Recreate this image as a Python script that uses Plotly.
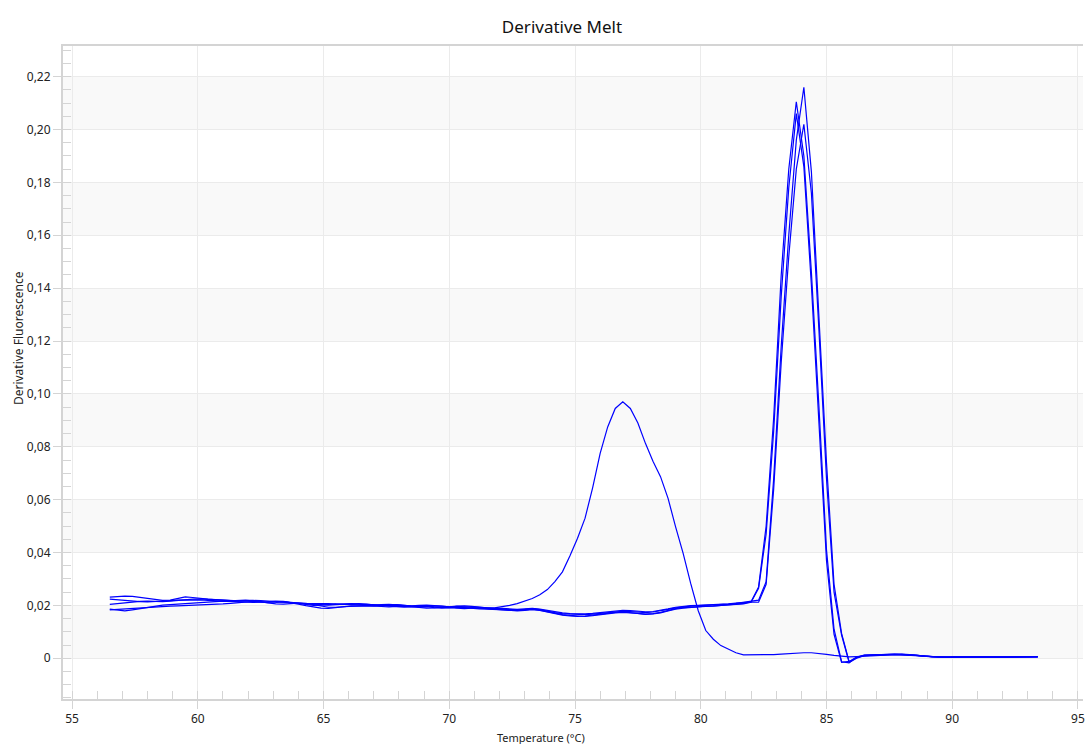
import plotly.graph_objects as go

temperature = [
    56.5, 56.8, 57.1, 57.4, 57.7, 58.0, 58.3, 58.6, 58.9, 59.2,
    59.5, 59.8, 60.1, 60.4, 60.7, 61.0, 61.3, 61.6, 61.9, 62.2,
    62.5, 62.8, 63.1, 63.4, 63.7, 64.0, 64.3, 64.6, 64.9, 65.2,
    65.5, 65.8, 66.1, 66.4, 66.7, 67.0, 67.3, 67.6, 67.9, 68.2,
    68.5, 68.8, 69.1, 69.4, 69.7, 70.0, 70.3, 70.6, 70.9, 71.2,
    71.5, 71.8, 72.1, 72.4, 72.7, 73.0, 73.3, 73.6, 73.9, 74.2,
    74.5, 74.8, 75.1, 75.4, 75.7, 76.0, 76.3, 76.6, 76.9, 77.2,
    77.5, 77.8, 78.1, 78.4, 78.7, 79.0, 79.3, 79.6, 79.9, 80.2,
    80.5, 80.8, 81.1, 81.4, 81.7, 82.0, 82.3, 82.6, 82.9, 83.2,
    83.5, 83.8, 84.1, 84.4, 84.7, 85.0, 85.3, 85.6, 85.9, 86.2,
    86.5, 86.8, 87.1, 87.4, 87.7, 88.0, 88.3, 88.6, 88.9, 89.2,
    89.5, 89.8, 90.1, 90.4, 90.7, 91.0, 91.3, 91.6, 91.9, 92.2,
    92.5, 92.8, 93.1, 93.4,
]

sample_a = [
    .0204, .0207, .0210, .0213, .0215, .0216, .0215, .0214, .0216, .0219,
    .0222, .0224, .0225, .0224, .0222, .0220, .0218, .0216, .0217, .0219,
    .0218, .0216, .0213, .0211, .0210, .0209, .0207, .0204, .0202, .0201,
    .0203, .0205, .0207, .0205, .0202, .0201, .0203, .0204, .0202, .0199,
    .0198, .0200, .0201, .0199, .0196, .0195, .0197, .0198, .0196, .0193,
    .0191, .0191, .0195, .0200, .0207, .0216, .0226, .0240, .0260, .0290,
    .0327, .0388, .0454, .0530, .0645, .0775, .0875, .0945, .0970, .0945,
    .0890, .0813, .0745, .0687, .0605, .0497, .0397, .0283, .0180, .0105,
    .0072, .0048, .0033, .0021, .0013, .0013, .0013, .0013, .0014, .0016,
    .0018, .0020, .0021, .0021, .0019, .0015, .0011, .0007, .0005, .0006,
    .0008, .0010, .0012, .0013, .0014, .0013, .0012, .0010, .0008, .0006,
    .0005, .0004, .0005, .0005, .0004, .0005, .0005, .0004, .0005, .0004,
    .0005, .0006, .0005, .0006,
]

sample_b = [
    .0231, .0233, .0235, .0234, .0230, .0226, .0221, .0219, .0220, .0226,
    .0232, .0230, .0226, .0224, .0222, .0220, .0218, .0217, .0218, .0215,
    .0212, .0210, .0211, .0213, .0211, .0207, .0203, .0200, .0201, .0204,
    .0206, .0205, .0203, .0202, .0204, .0203, .0200, .0199, .0201, .0199,
    .0196, .0197, .0198, .0195, .0193, .0194, .0196, .0195, .0192, .0190,
    .0189, .0188, .0186, .0184, .0183, .0185, .0188, .0184, .0178, .0173,
    .0169, .0167, .0166, .0165, .0167, .0170, .0173, .0176, .0178, .0177,
    .0175, .0173, .0175, .0179, .0185, .0191, .0195, .0197, .0199, .0200,
    .0201, .0202, .0205, .0208, .0212, .0216, .0220, .0290, .0680, .1180,
    .1600, .1960, .2160, .1840, .1300, .0740, .0280, .0094, -.0013, .0002,
    .0011, .0012, .0013, .0015, .0016, .0015, .0013, .0010, .0007, .0005,
    .0004, .0005, .0005, .0004, .0004, .0005, .0004, .0005, .0005, .0004,
    .0006, .0005, .0006, .0005,
]

sample_c = [
    .0224, .0221, .0218, .0216, .0214, .0213, .0214, .0216, .0218, .0220,
    .0221, .0222, .0221, .0219, .0217, .0216, .0217, .0219, .0220, .0218,
    .0214, .0212, .0214, .0215, .0212, .0208, .0206, .0207, .0208, .0207,
    .0205, .0204, .0206, .0207, .0205, .0201, .0199, .0201, .0203, .0200,
    .0197, .0195, .0196, .0198, .0197, .0194, .0192, .0193, .0195, .0193,
    .0190, .0189, .0189, .0187, .0185, .0187, .0189, .0186, .0181, .0176,
    .0172, .0169, .0168, .0168, .0170, .0173, .0176, .0179, .0181, .0180,
    .0178, .0176, .0177, .0181, .0187, .0193, .0197, .0199, .0200, .0201,
    .0203, .0204, .0206, .0209, .0211, .0213, .0212, .0280, .0640, .1120,
    .1520, .1850, .2020, .1760, .1240, .0680, .0250, .0088, -.0015, .0000,
    .0010, .0012, .0012, .0014, .0015, .0014, .0012, .0011, .0008, .0006,
    .0004, .0004, .0005, .0005, .0004, .0004, .0005, .0004, .0005, .0005,
    .0005, .0006, .0005, .0006,
]

sample_d = [
    .0186, .0182, .0179, .0183, .0188, .0193, .0198, .0201, .0203, .0205,
    .0207, .0209, .0211, .0213, .0215, .0216, .0215, .0213, .0212, .0211,
    .0212, .0214, .0216, .0214, .0210, .0205, .0199, .0194, .0190, .0189,
    .0192, .0196, .0198, .0197, .0196, .0197, .0199, .0198, .0195, .0193,
    .0194, .0196, .0195, .0192, .0190, .0191, .0193, .0192, .0189, .0187,
    .0186, .0185, .0184, .0182, .0181, .0183, .0186, .0182, .0176, .0170,
    .0165, .0162, .0159, .0158, .0161, .0165, .0169, .0172, .0174, .0173,
    .0170, .0167, .0169, .0174, .0181, .0188, .0192, .0194, .0195, .0196,
    .0197, .0199, .0202, .0205, .0208, .0214, .0270, .0500, .0910, .1450,
    .1850, .2105, .1900, .1460, .0950, .0410, .0110, -.0013, -.0017, .0004,
    .0011, .0013, .0014, .0015, .0016, .0015, .0013, .0011, .0008, .0005,
    .0004, .0004, .0005, .0004, .0004, .0004, .0005, .0005, .0004, .0005,
    .0005, .0005, .0006, .0005,
]

sample_e = [
    .0183, .0185, .0187, .0189, .0191, .0193, .0195, .0196, .0197, .0198,
    .0199, .0201, .0202, .0203, .0204, .0206, .0208, .0210, .0213, .0215,
    .0213, .0209, .0206, .0205, .0207, .0209, .0208, .0203, .0197, .0193,
    .0193, .0195, .0197, .0199, .0200, .0198, .0195, .0194, .0196, .0197,
    .0195, .0192, .0190, .0191, .0193, .0192, .0189, .0188, .0190, .0191,
    .0188, .0186, .0183, .0180, .0179, .0181, .0184, .0181, .0175, .0169,
    .0163, .0160, .0158, .0160, .0164, .0168, .0171, .0174, .0176, .0172,
    .0168, .0166, .0168, .0172, .0179, .0186, .0190, .0193, .0196, .0197,
    .0198, .0200, .0201, .0203, .0206, .0212, .0265, .0470, .0860, .1370,
    .1780, .2060, .1860, .1410, .0900, .0370, .0090, -.0015, -.0012, .0005,
    .0012, .0013, .0013, .0014, .0016, .0016, .0014, .0011, .0009, .0006,
    .0005, .0004, .0004, .0005, .0005, .0004, .0004, .0005, .0004, .0005,
    .0006, .0005, .0005, .0006,
]

x_tick_values = [55, 60, 65, 70, 75, 80, 85, 90, 95]
x_tick_labels = ["55", "60", "65", "70", "75", "80", "85", "90", "95"]
y_tick_values = [0, 0.02, 0.04, 0.06, 0.08, 0.10, 0.12, 0.14, 0.16, 0.18, 0.20, 0.22]
y_tick_labels = ["0", "0,02", "0,04", "0,06", "0,08", "0,10", "0,12", "0,14",
                 "0,16", "0,18", "0,20", "0,22"]

series = [sample_a, sample_b, sample_c, sample_d, sample_e]
for s in series:
    assert len(s) == len(temperature)

FONT = "Noto Sans, Open Sans, sans-serif"
AXIS_COLOR = "#d4d4d4"
GRID_COLOR = "#ebebeb"

fig = go.Figure()
for s in series:
    fig.add_trace(go.Scatter(
        x=temperature, y=s, mode="lines",
        line=dict(color="#0000ff", width=1.2),
        showlegend=False, hoverinfo="skip",
    ))

# alternating background bands between major y ticks
shapes = []
for i in range(0, len(y_tick_values) - 1, 2):
    shapes.append(dict(
        type="rect", xref="paper", yref="y", x0=0, x1=1,
        y0=y_tick_values[i], y1=y_tick_values[i + 1],
        fillcolor="#f9f9f9", line=dict(width=0), layer="below",
    ))

fig.update_layout(
    width=1085, height=744,
    margin=dict(l=63, r=0, t=46, b=45),
    paper_bgcolor="white", plot_bgcolor="white",
    font=dict(family=FONT, size=12, color="#222222"),
    shapes=shapes,
    title=dict(text="Derivative Melt", x=562 / 1085, xref="container",
               y=1 - 27 / 744, yref="container", xanchor="center", yanchor="middle",
               font=dict(family=FONT, size=17, color="#111111")),
    xaxis=dict(
        range=[54.64, 95.2], tickmode="array", tickvals=x_tick_values, ticktext=x_tick_labels,
        showgrid=True, gridcolor=GRID_COLOR, gridwidth=1,
        showline=True, linecolor=AXIS_COLOR, linewidth=2, mirror=True,
        ticks="outside", ticklen=8, tickcolor=AXIS_COLOR, tickwidth=1,
        ticklabeloverflow="allow",
        minor=dict(tickmode="linear", tick0=0, dtick=1, ticks="inside", ticklen=8,
                   tickcolor=AXIS_COLOR, tickwidth=1, showgrid=False),
        zeroline=False, tickfont=dict(size=12, color="#222222"),
    ),
    yaxis=dict(
        range=[-0.0154, 0.2316], tickmode="array", tickvals=y_tick_values, ticktext=y_tick_labels,
        showgrid=True, gridcolor=GRID_COLOR, gridwidth=1,
        showline=True, linecolor=AXIS_COLOR, linewidth=2, mirror=False,
        ticks="outside", ticklen=8, tickcolor=AXIS_COLOR, tickwidth=1,
        minor=dict(tickmode="linear", tick0=0, dtick=0.005, ticks="inside", ticklen=8,
                   tickcolor=AXIS_COLOR, tickwidth=1, showgrid=False),
        zeroline=False, tickfont=dict(size=12, color="#222222"),
    ),
    annotations=[
        dict(text="Temperature (°C)", xref="paper", yref="paper",
             x=(542 - 63) / 1022, y=(699 - 737) / 653, showarrow=False,
             xanchor="center", yanchor="middle", font=dict(family=FONT, size=11, color="#222222")),
        dict(text="Derivative Fluorescence", xref="paper", yref="paper",
             x=(18 - 63) / 1022, y=(699 - 338) / 653, showarrow=False, textangle=-90,
             xanchor="center", yanchor="middle", font=dict(family=FONT, size=12, color="#222222")),
    ],
)

fig.write_html("out.html")
